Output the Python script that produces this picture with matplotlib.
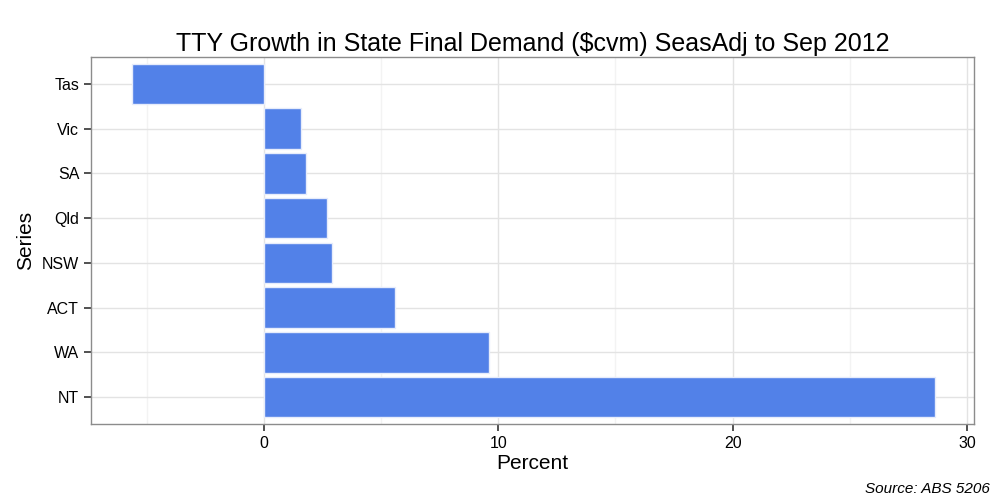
import matplotlib
matplotlib.use("Agg")
import matplotlib.pyplot as plt
from matplotlib.ticker import MultipleLocator

plt.rcParams['font.family'] = ['Liberation Sans', 'DejaVu Sans']

# Data (bottom to top)
series = ["NT", "WA", "ACT", "NSW", "Qld", "SA", "Vic", "Tas"]
percent = [28.64, 9.60, 5.59, 2.92, 2.69, 1.81, 1.56, -5.65]

fig = plt.figure(figsize=(10, 5), dpi=100)
ax = fig.add_axes([0.091, 0.152, 0.883, 0.734])

ypos = list(range(len(series)))
ax.barh(ypos, percent, height=0.9, color="#5281E8", edgecolor="#E6ECFB", linewidth=1, zorder=3)

ax.set_xlim(-7.38, 30.3)
ax.set_ylim(-0.6, len(series) - 0.4)
ax.set_yticks(ypos)
ax.set_yticklabels(series)
ax.xaxis.set_major_locator(MultipleLocator(10))
ax.xaxis.set_minor_locator(MultipleLocator(5))

ax.grid(True, which="major", color="#E3E3E3", linewidth=1, zorder=0)
ax.grid(True, which="minor", axis="x", color="#F3F3F3", linewidth=1, zorder=0)
ax.set_axisbelow(True)

for s in ax.spines.values():
    s.set_color("#8C8C8C")
    s.set_linewidth(1)

ax.tick_params(axis="both", which="major", labelsize=11.5, color="#333333", length=5, width=1.2, labelcolor="black")
ax.tick_params(axis="x", which="minor", length=0)

ax.set_xlabel("Percent", fontsize=15, labelpad=2)
ax.set_ylabel("Series", fontsize=15, labelpad=5)
ax.set_title("TTY Growth in State Final Demand ($cvm) SeasAdj to Sep 2012", fontsize=18, pad=4)

fig.text(0.99, 0.008, "Source: ABS 5206", ha="right", va="bottom", fontsize=11, style="italic")

fig.savefig("out.png", dpi=100)
